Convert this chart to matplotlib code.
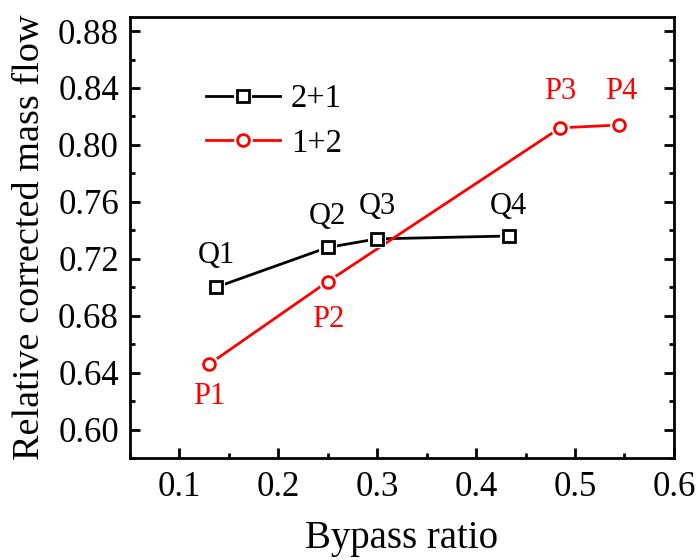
import numpy as np
from matplotlib import pyplot as plt
from matplotlib.legend_handler import HandlerTuple

# bypass ratio vs relative corrected mass flow for the two layouts
q_x = [0.137, 0.25, 0.30, 0.433]
q_y = [0.700, 0.728, 0.734, 0.736]
q_names = ['Q1', 'Q2', 'Q3', 'Q4']

p_x = [0.13, 0.25, 0.485, 0.545]
p_y = [0.646, 0.704, 0.812, 0.814]
p_names = ['P1', 'P2', 'P3', 'P4']

plt.rcParams['font.family'] = ['Liberation Serif', 'DejaVu Serif']

fig = plt.figure(figsize=(6.99, 5.6), dpi=100)
ax = fig.add_axes([0.186, 0.182, 0.778, 0.788])


def draw_series(x, y, color, marker, ms):
    # line, then a white blob under each symbol so the line stops short of it
    ln, = ax.plot(x, y, '-', color=color, lw=2.0, zorder=2)
    gap, = ax.plot(x, y, linestyle='none', marker=marker, ms=ms + 5,
                   mfc='white', mec='white', mew=0, zorder=3)
    mk, = ax.plot(x, y, linestyle='none', marker=marker, ms=ms,
                  mfc='white', mec=color, mew=2.0, zorder=4)
    return (ln, gap, mk)


h_q = draw_series(q_x, q_y, 'black', 's', 8.0)
h_p = draw_series(p_x, p_y, 'red', 'o', 8.5)

# point labels
q_off = [(0, 23), (0, 22), (0, 23), (0, 21)]
for name, x, y, off in zip(q_names, q_x, q_y, q_off):
    ax.annotate(name, (x, y), xytext=off, textcoords='offset points',
                ha='center', va='center', fontsize=22, color='black')
p_off = [(0, -23), (0, -27), (0, 26), (1, 24)]
for name, x, y, off in zip(p_names, p_x, p_y, p_off):
    ax.annotate(name, (x, y), xytext=off, textcoords='offset points',
                ha='center', va='center', fontsize=22, color='red')

ax.set_xlim(0.05, 0.6)
ax.set_ylim(0.58, 0.89)
ax.set_xticks(np.arange(0.1, 0.61, 0.1))
ax.set_xticks(np.arange(0.05, 0.6, 0.05), minor=True)
ax.set_yticks(np.arange(0.60, 0.881, 0.04))
ax.set_yticks(np.arange(0.58, 0.89, 0.02), minor=True)
ax.set_xticklabels(['0.1', '0.2', '0.3', '0.4', '0.5', '0.6'])
ax.set_yticklabels(['%.2f' % v for v in np.arange(0.60, 0.881, 0.04)])

ax.tick_params(which='both', direction='in', width=2.0, labelsize=25,
               top=False, right=True)
ax.tick_params(which='major', length=7)
ax.tick_params(which='minor', length=3.5)
ax.tick_params(axis='x', pad=9)
ax.tick_params(axis='y', pad=8)
for s in ax.spines.values():
    s.set_linewidth(2.0)

ax.set_xlabel('Bypass ratio', fontsize=28, labelpad=12)
ax.set_ylabel('Relative corrected mass flow', fontsize=27.5, labelpad=8)

ax.legend([h_q, h_p], ['2+1', '1+2'], handler_map={tuple: HandlerTuple(ndivide=1, pad=0)},
          loc='upper left', bbox_to_anchor=(0.14, 0.848), frameon=False,
          fontsize=23.5, handlelength=2.25, handletextpad=0.35, labelspacing=0.42,
          borderpad=0, borderaxespad=0)

fig.savefig('out.png', dpi=100)
